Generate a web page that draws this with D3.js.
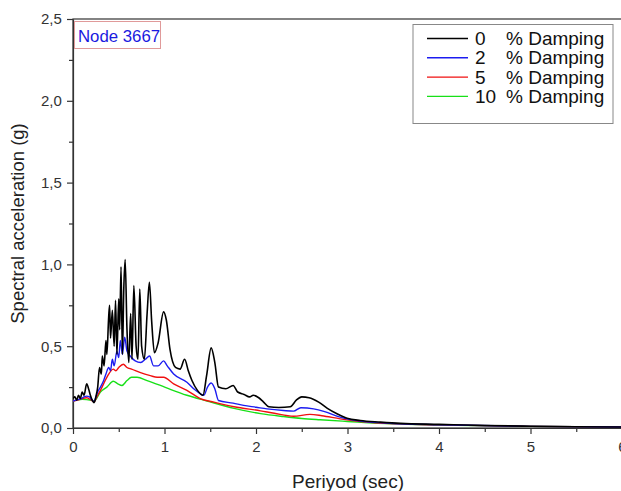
<!DOCTYPE html>
<html><head><meta charset="utf-8">
<script src="https://cdn.jsdelivr.net/npm/d3@7"></script>
<style>body{margin:0;background:#fff}svg{display:block}</style>
</head><body>
<svg id="c" width="621" height="491"></svg>
<script>
// Data: [period (sec), spectral acceleration (g)]
const damping0 = [[0,0.18],[0.02,0.19],[0.04,0.17],[0.06,0.2],[0.08,0.18],[0.10,0.22],[0.12,0.2],[0.15,0.27],[0.17,0.24],[0.19,0.2],[0.21,0.17],[0.23,0.155],[0.25,0.19],[0.27,0.25],[0.29,0.37],[0.31,0.33],[0.32,0.44],[0.34,0.38],[0.36,0.535],[0.37,0.45],[0.39,0.68],[0.40,0.75],[0.41,0.55],[0.43,0.72],[0.45,0.5],[0.465,0.78],[0.48,0.45],[0.50,0.79],[0.51,0.6],[0.525,0.985],[0.54,0.45],[0.555,0.85],[0.57,1.03],[0.59,0.6],[0.61,0.4],[0.63,0.7],[0.645,0.42],[0.665,0.87],[0.69,0.5],[0.71,0.42],[0.73,0.85],[0.75,0.5],[0.78,0.42],[0.81,0.7],[0.835,0.89],[0.86,0.65],[0.89,0.46],[0.93,0.52],[0.99,0.71],[1.02,0.66],[1.06,0.48],[1.12,0.37],[1.17,0.36],[1.22,0.42],[1.26,0.35],[1.30,0.29],[1.36,0.23],[1.42,0.2],[1.46,0.32],[1.51,0.49],[1.55,0.4],[1.59,0.25],[1.67,0.24],[1.75,0.26],[1.80,0.22],[1.87,0.205],[1.93,0.19],[1.97,0.2],[2.03,0.185],[2.08,0.16],[2.14,0.13],[2.25,0.125],[2.375,0.13],[2.44,0.17],[2.50,0.19],[2.58,0.185],[2.685,0.158],[2.78,0.12],[2.885,0.087],[2.995,0.06],[3.14,0.046],[3.36,0.036],[3.58,0.028],[4.0,0.022],[4.5,0.015],[5.0,0.011],[5.5,0.008],[6.0,0.006]];
const damping2 = [[0,0.165],[0.03,0.17],[0.06,0.175],[0.09,0.18],[0.12,0.19],[0.15,0.195],[0.18,0.19],[0.21,0.17],[0.23,0.16],[0.25,0.19],[0.27,0.22],[0.30,0.25],[0.335,0.29],[0.36,0.33],[0.39,0.37],[0.41,0.35],[0.43,0.42],[0.45,0.38],[0.48,0.47],[0.50,0.43],[0.517,0.535],[0.54,0.45],[0.565,0.555],[0.59,0.47],[0.625,0.44],[0.68,0.41],[0.74,0.4],[0.79,0.42],[0.837,0.44],[0.88,0.38],[0.93,0.38],[0.99,0.41],[1.03,0.38],[1.10,0.33],[1.245,0.28],[1.33,0.235],[1.39,0.21],[1.43,0.2],[1.47,0.25],[1.51,0.275],[1.55,0.24],[1.59,0.168],[1.75,0.152],[1.865,0.138],[2.0,0.127],[2.12,0.117],[2.30,0.107],[2.41,0.103],[2.49,0.124],[2.63,0.117],[2.75,0.1],[2.92,0.066],[3.14,0.042],[3.58,0.026],[4,0.02],[5,0.01],[6,0.006]];
const damping5 = [[0,0.165],[0.05,0.17],[0.10,0.18],[0.15,0.185],[0.20,0.17],[0.23,0.16],[0.26,0.19],[0.30,0.23],[0.37,0.31],[0.44,0.36],[0.47,0.35],[0.50,0.37],[0.55,0.39],[0.59,0.37],[0.64,0.36],[0.73,0.34],[0.845,0.32],[0.92,0.31],[0.99,0.31],[1.10,0.27],[1.245,0.23],[1.39,0.18],[1.54,0.158],[1.76,0.13],[2.05,0.105],[2.2,0.09],[2.41,0.072],[2.59,0.083],[2.72,0.075],[2.92,0.056],[3.14,0.04],[3.58,0.025],[4,0.019],[5,0.01],[6,0.006]];
const damping10 = [[0,0.165],[0.1,0.175],[0.2,0.17],[0.23,0.165],[0.30,0.22],[0.37,0.25],[0.44,0.286],[0.49,0.27],[0.535,0.26],[0.59,0.29],[0.64,0.31],[0.70,0.31],[0.81,0.29],[0.955,0.26],[1.07,0.235],[1.245,0.2],[1.465,0.165],[1.76,0.12],[2.05,0.088],[2.3,0.07],[2.5,0.058],[2.7,0.05],[3.0,0.04],[3.5,0.025],[4,0.018],[5,0.01],[6,0.006]];
const seriesLabels = ["0", "2", "5", "10"];
const xTicks = [0,1,2,3,4,5,6];
const yTicks = [0,0.5,1.0,1.5,2.0,2.5];

const colors = ["#000000","#1c1cf0","#f01010","#18e018"];
const series = [damping0, damping2, damping5, damping10];

const svg = d3.select("#c");
const L = 73, R = 622, T = 19, B = 428;
const x = d3.scaleLinear().domain([0,6]).range([L,R]);
const y = d3.scaleLinear().domain([0,2.5]).range([B,T]);
const fmt = d => d3.format(".1f")(d).replace(".", ",");
const FF = "Liberation Sans, Arial, sans-serif";

svg.append("defs").append("clipPath").attr("id","pc")
  .append("rect").attr("x",L).attr("y",T).attr("width",R-L).attr("height",B-T);

// frame
svg.append("rect").attr("x",L).attr("y",T).attr("width",R-L).attr("height",B-T)
  .attr("fill","none").attr("stroke","#333").attr("stroke-width",1.2);

const tickColor = "#333";
// x axis
const xAxis = svg.append("g").attr("transform",`translate(0,${B})`)
  .call(d3.axisBottom(x).tickValues(xTicks).tickFormat(d3.format("d")).tickSize(6).tickSizeOuter(0));
svg.append("g").attr("transform",`translate(0,${B})`)
  .call(d3.axisBottom(x).tickValues(d3.range(0.5,6,1)).tickFormat("").tickSize(4).tickSizeOuter(0))
  .call(g=>g.select(".domain").remove());
// y axis
const yAxis = svg.append("g").attr("transform",`translate(${L},0)`)
  .call(d3.axisLeft(y).tickValues(yTicks).tickFormat(fmt).tickSize(6).tickSizeOuter(0));
svg.append("g").attr("transform",`translate(${L},0)`)
  .call(d3.axisLeft(y).tickValues(d3.range(0.25,2.5,0.5)).tickFormat("").tickSize(4).tickSizeOuter(0))
  .call(g=>g.select(".domain").remove());

svg.selectAll(".tick line").attr("stroke",tickColor).attr("stroke-width",1.2);
svg.selectAll(".domain").attr("stroke",tickColor).attr("stroke-width",1.2);
svg.selectAll(".tick text").attr("font-family",FF)
  .attr("font-size",15).attr("fill","#333");
xAxis.selectAll(".tick text").attr("dy","1.0em");
yAxis.selectAll(".tick text").attr("dx","-0.15em");

// lines
const line = d3.line().x(d=>x(d[0])).y(d=>y(d[1])).curve(d3.curveMonotoneX);
const gl = svg.append("g").attr("clip-path","url(#pc)");
[3,2,1,0].forEach(i=>{
  gl.append("path").datum(series[i]).attr("d",line)
    .attr("fill","none").attr("stroke",colors[i]).attr("stroke-width",i===0?1.6:1.4)
    .attr("stroke-linejoin","round");
});

// titles
svg.append("text").attr("x",348).attr("y",488).attr("text-anchor","middle")
  .attr("font-family",FF).attr("font-size",19).attr("fill","#222")
  .text("Periyod (sec)");
svg.append("text").attr("transform",`translate(24,${(T+B)/2}) rotate(-90)`).attr("text-anchor","middle")
  .attr("font-family",FF).attr("font-size",18.5).attr("fill","#222")
  .text("Spectral acceleration (g)");

// node label box
svg.append("rect").attr("x",74.5).attr("y",21.5).attr("width",86).attr("height",27)
  .attr("fill","#fff").attr("stroke","#e09a9a").attr("stroke-width",1);
svg.append("text").attr("x",78).attr("y",42).attr("font-family",FF)
  .attr("font-size",16.8).attr("fill","#1a1ae0").text("Node 3667");

// legend
const lg = svg.append("g");
lg.append("rect").attr("x",413).attr("y",24.5).attr("width",200).attr("height",99)
  .attr("fill","#fff").attr("stroke","#888").attr("stroke-width",1);
seriesLabels.forEach((s,i)=>{
  const yy = 38.5 + i*19.3;
  lg.append("line").attr("x1",427).attr("x2",468).attr("y1",yy).attr("y2",yy)
    .attr("stroke",colors[i]).attr("stroke-width",1.4);
  lg.append("text").attr("x",475).attr("y",yy+6.5).attr("font-family",FF)
    .attr("font-size",19).attr("fill","#111").text(s);
  lg.append("text").attr("x",506).attr("y",yy+6.5).attr("font-family",FF)
    .attr("font-size",19).attr("fill","#111").text("% Damping");
});
</script>
</body></html>
